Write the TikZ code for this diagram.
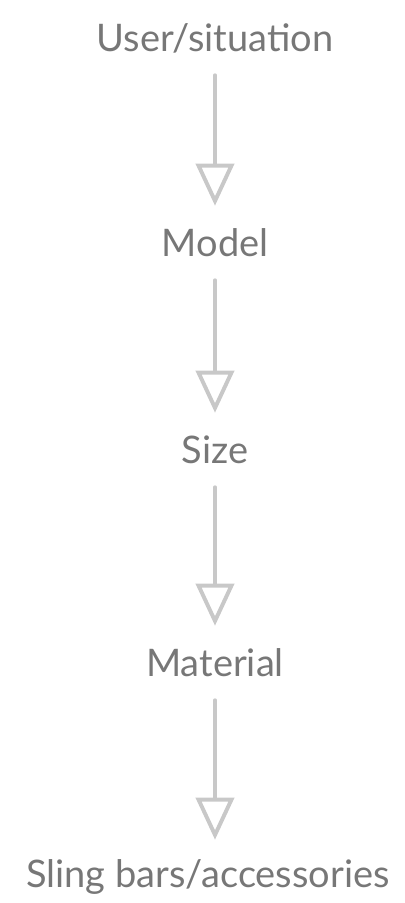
\documentclass[tikz,border=0pt]{standalone}
\usepackage{fontspec}
\setmainfont{Lato}
\usetikzlibrary{arrows.meta}
\definecolor{txtgray}{HTML}{777777}
\definecolor{arrgray}{HTML}{C8C8C8}
\tikzset{
	step label/.style={text=txtgray, font=\fontsize{27}{32}\selectfont, minimum height=1.85cm, inner sep=0pt},
	flow/.style={draw=arrgray, line width=2.8pt, line cap=round, -{Triangle[open, length=1.05cm, width=0.95cm, line width=2.8pt]}}
}
\begin{document}
\begin{tikzpicture}[x=0.025cm, y=-0.025cm]
			\useasboundingbox (0, 0) rectangle (405, 903);
			\node[step label] (user)   at (215, 38)  {User/situation};
			\node[step label] (model)  at (215, 243) {Model};
			\node[step label] (size)   at (215, 450) {Size};
			\node[step label] (mat)    at (215, 663) {Material};
			\node[step label] (sling)  at (208, 877) {Sling bars/accessories};
			
			\draw[flow] (user) -- (model);
			\draw[flow] (model) -- (size);
			\draw[flow] (size) -- (mat);
			\draw[flow] (mat) -- (mat |- sling.north);
		\end{tikzpicture}
\end{document}
